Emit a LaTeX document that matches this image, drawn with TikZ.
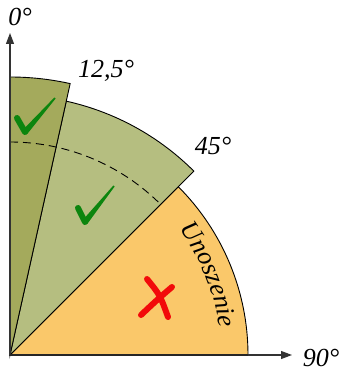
\documentclass[tikz,border=0pt]{standalone}
\usepackage{fontspec}
\setmainfont{Liberation Serif}
\usetikzlibrary{decorations.text,arrows.meta,calc}
\definecolor{darkolive}{HTML}{A4AA5C}
\definecolor{lightolive}{HTML}{B5BE80}
\definecolor{sectororange}{HTML}{FAC86A}
\definecolor{checkgreen}{HTML}{0C850E}
\definecolor{crossred}{HTML}{F20A0A}
\tikzset{
  sector/.style={draw=black, line width=0.9pt, line join=miter},
  axis/.style={draw=black!80, line width=1.1pt, -{Triangle[length=11pt,width=8pt]}},
  lbl/.style={font=\fontsize{26}{30}\selectfont\itshape, inner sep=0pt},
  symstroke/.style={line width=6pt, line cap=round, line join=round},
}
\newcommand{\mycheck}[3]{% start, vertex, end
  \draw[symstroke, checkgreen] (#1) -- (#2);
  \fill[checkgreen] ($(#2)!3pt!90:(#3)$) -- ($(#3)!0.8pt!-90:(#2)$)
     arc[start angle=0, end angle=0, radius=0pt] -- ($(#3)!0.8pt!90:(#2)$)
     -- ($(#2)!3pt!-90:(#3)$) -- cycle;
}
\begin{document}
\begin{tikzpicture}[x=1pt,y=1pt]
\useasboundingbox (-10,-19) rectangle (330,355);
\coordinate (O) at (0,0);
\coordinate (Ytip) at (0,322);
\coordinate (Xtip) at (282,0);
% sectors
\path[sector, fill=sectororange] (O) -- (238,0) arc[start angle=0, end angle=45, radius=238] -- cycle;
\path[sector, fill=lightolive] (O) -- (45:260) arc[start angle=45, end angle=77.5, radius=260] -- cycle;
\path[sector, fill=darkolive] (O) -- (77.5:278) arc[start angle=77.5, end angle=90, radius=278] -- cycle;
% dashed arc
\draw[black, line width=0.9pt, dash pattern=on 8pt off 5pt] (90:213) arc[start angle=90, end angle=45, radius=213];
% axes
\draw[axis] (O) -- (Ytip);
\draw[axis] (O) -- (Xtip);
\draw[line width=1.8pt, black!85] (O) -- (238,0);
% labels
\node[lbl] (l0) at (10,338) {0°};
\node[lbl] (l90) at (311,-3) {90°};
\node[lbl] (l125) at (96,284) {12,5°};
\node[lbl] (l45) at (203,209) {45°};
% text along arc
\path[decorate, decoration={text along path, text align=center,
  text format delimiters={|}{|},
  text={|\fontsize{26}{30}\selectfont\itshape|Unoszenie}}]
  (39:211) arc[start angle=39, end angle=5, radius=211];
% check marks
\coordinate (c1s) at (7,237); \coordinate (c1v) at (15,223); \coordinate (c1e) at (45,257);
\coordinate (c2s) at (68,147); \coordinate (c2v) at (75,133); \coordinate (c2e) at (104,169);
\mycheck{c1s}{c1v}{c1e}
\mycheck{c2s}{c2v}{c2e}
% cross
\draw[symstroke, crossred] (162,68) .. controls (148,56) .. (131,40);
\draw[symstroke, crossred] (137,76) .. controls (150,60) .. (158,38);
\end{tikzpicture}
\end{document}
